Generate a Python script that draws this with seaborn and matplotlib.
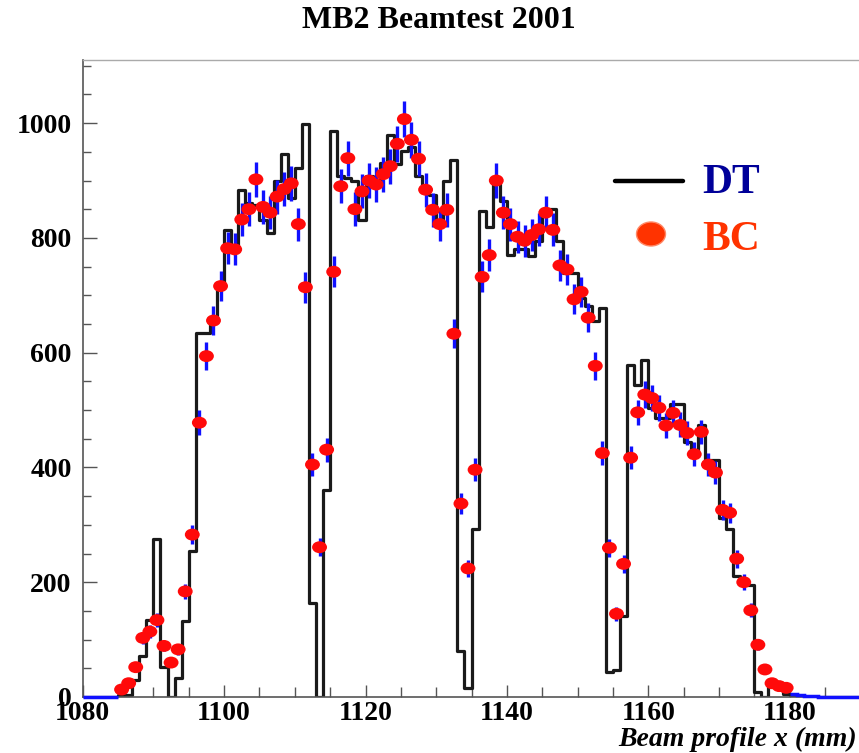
import numpy as np
import pandas as pd
import matplotlib
matplotlib.use("Agg")
import matplotlib.pyplot as plt
import seaborn as sns
from matplotlib.path import Path
from matplotlib.transforms import Affine2D
from matplotlib.ticker import MultipleLocator, FixedLocator
from matplotlib.lines import Line2D
from matplotlib.patches import Ellipse

sns.set_theme(style="white")
plt.rcParams['font.family'] = ['Liberation Serif', 'DejaVu Serif']

# ---------------- data ----------------
bin_left = list(range(1080, 1190))          # 1 mm bins, left edges

dt_counts = [
    0, 0, 0, 0, 0, 3, 3, 30, 71, 135,            # 1080-1089
    275, 52, 0, 33, 132, 255, 634, 634, 660, 720,  # 1090-1099
    814, 780, 884, 860, 858, 832, 809, 899, 946, 869,  # 1100-1109
    922, 999, 164, 0, 360, 987, 908, 905, 899, 832,    # 1110-1119
    907, 895, 930, 979, 928, 951, 959, 908, 880, 875,  # 1120-1129
    823, 899, 936, 80, 15, 292, 847, 819, 895, 865,    # 1130-1139
    771, 780, 780, 768, 794, 850, 850, 794, 739, 739,  # 1140-1149
    696, 681, 655, 678, 44, 47, 141, 578, 544, 587,    # 1150-1159
    503, 486, 486, 511, 511, 445, 430, 474, 413, 413,  # 1160-1169
    312, 293, 210, 200, 195, 9, 0, 25, 25, 5,          # 1170-1179
    0, 0, 0, 0, 0, 0, 0, 0, 0, 0,                      # 1180-1189
]

bc_counts = [
    0, 0, 0, 0, 0, 13, 24, 52, 103, 114,             # 1080-1089
    134, 89, 60, 83, 184, 283, 478, 594, 656, 716,   # 1090-1099
    782, 780, 832, 850, 902, 854, 844, 872, 885, 895,  # 1100-1109
    824, 714, 405, 261, 431, 741, 890, 939, 850, 881,  # 1110-1119
    900, 893, 911, 925, 964, 1007, 971, 938, 884, 849, # 1120-1129
    824, 849, 633, 337, 224, 396, 732, 770, 900, 844,  # 1130-1139
    824, 802, 795, 805, 815, 844, 814, 752, 745, 693,  # 1140-1149
    706, 661, 577, 425, 260, 145, 232, 417, 496, 527,  # 1150-1159
    521, 504, 473, 495, 474, 460, 423, 462, 405, 391,  # 1160-1169
    326, 321, 241, 200, 151, 91, 48, 24, 19, 16,       # 1170-1179
    6, 3, 2, 1, 0, 0, 0, 0, 0, 0,                      # 1180-1189
]

x_ticks = [1080, 1100, 1120, 1140, 1160, 1180]
y_ticks = [0, 200, 400, 600, 800, 1000]
title = "MB2 Beamtest 2001"
x_label = "Beam profile x (mm)"
legend_labels = ["DT", "BC"]

# ---------------- figure ----------------
W, H = 859, 753
fig = plt.figure(figsize=(W / 100, H / 100), dpi=100)
fig.patch.set_facecolor("white")
ax = fig.add_axes([82.7 / W, 56 / H, 777.7 / W, 637 / H])
ax.set_facecolor("white")

edges = np.arange(bin_left[0], bin_left[-1] + 2)
df = pd.DataFrame({
    "x": np.array(bin_left) + 0.5,
    "dt": dt_counts,
    "bc": bc_counts,
})

# DT histogram outline
sns.histplot(data=df, x="x", weights="dt", binwidth=1,
             binrange=(bin_left[0], bin_left[-1] + 1), element="step",
             fill=False, color="#1a1a1a", linewidth=2.3, ax=ax)

# BC: tails near zero drawn as blue line
bc = np.array(bc_counts, dtype=float)
nz = np.nonzero(bc >= 10)[0]
first, last = nz[0], nz[-1]
ax.stairs(bc[:first], edges[:first + 1], color="#1010ff", linewidth=2.5,
          zorder=4, clip_on=False, baseline=None)
ax.stairs(bc[last + 1:], edges[last + 1:], color="#1010ff", linewidth=2.5,
          zorder=4, clip_on=False, baseline=None)

# BC points with error bars
dfm = df[df["bc"] >= 10]
ax.errorbar(dfm["x"], dfm["bc"], yerr=np.sqrt(dfm["bc"]), fmt="none",
            ecolor="#1010ff", elinewidth=2.4, capsize=0, zorder=3)
ellipse = Path.unit_circle().transformed(Affine2D().scale(1.25, 1.0))
sns.scatterplot(data=dfm, x="x", y="bc", marker=ellipse, s=115,
                color="#ff0a0a", edgecolor="none", linewidth=0, ax=ax,
                zorder=5, legend=False)

# ---------------- axes styling ----------------
ax.set_xlim(1080, 1190)
ax.set_ylim(0, 1110)
ax.set_xlabel("")
ax.set_ylabel("")
ax.xaxis.set_major_locator(FixedLocator(x_ticks))
ax.yaxis.set_major_locator(FixedLocator(y_ticks))
ax.xaxis.set_minor_locator(MultipleLocator(5))
ax.yaxis.set_minor_locator(MultipleLocator(50))
ax.tick_params(axis="both", which="both", direction="in", color="#555555",
               width=1.0, top=False, right=False, left=True, bottom=True)
ax.tick_params(axis="y", which="major", length=10, pad=8)
ax.tick_params(axis="y", which="minor", length=6)
ax.tick_params(axis="x", which="major", length=9, pad=3)
ax.tick_params(axis="x", which="minor", length=7)
for lab in ax.get_xticklabels() + ax.get_yticklabels():
    lab.set_fontweight("bold")
    lab.set_fontsize(20)
    lab.set_color("black")

for side in ["left", "bottom"]:
    ax.spines[side].set_color("#555555")
    ax.spines[side].set_linewidth(1.2)
ax.spines["top"].set_color("#aaaaaa")
ax.spines["top"].set_linewidth(1.0)
ax.spines["right"].set_color("#aaaaaa")

# title and axis label
fig.text(438.5 / W, 1 - 21 / H, title, ha="center", va="center",
         fontsize=23, fontweight="bold", color="black")
fig.text(857 / W, 1 - 746 / H, x_label, ha="right", va="baseline",
         fontsize=20, fontweight="bold", fontstyle="italic", color="black")

# legend (manual, ROOT style)
fig.add_artist(Line2D([615 / W, 683 / W], [1 - 181 / H, 1 - 181 / H],
                      color="black", linewidth=3.2))
fig.text(702 / W, 1 - 183 / H, legend_labels[0], ha="left", va="center",
         fontsize=30, fontweight="bold", color="#000099")
fig.add_artist(Ellipse((651 / W, 1 - 234 / H), 29 / W, 24 / H,
                       facecolor="#ff3300", edgecolor="#ff8866", linewidth=1))
fig.text(702 / W, 1 - 240 / H, legend_labels[1], ha="left", va="center",
         fontsize=30, fontweight="bold", color="#ff3300")

fig.savefig("out.png", dpi=100, facecolor="white")
